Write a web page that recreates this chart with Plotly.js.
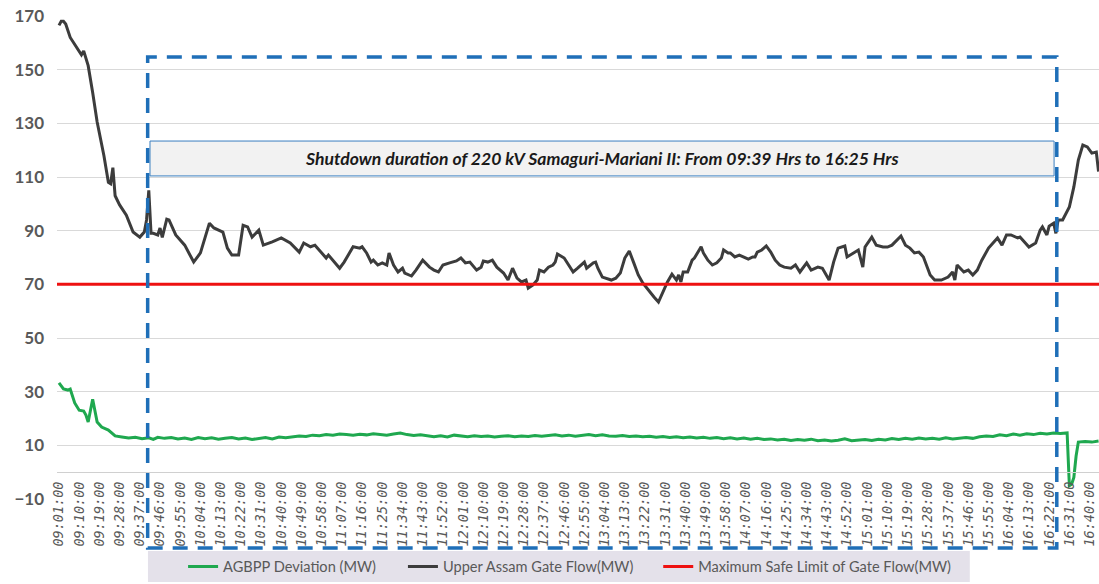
<!DOCTYPE html>
<html>
<head>
<meta charset="utf-8">
<script src="https://cdn.plot.ly/plotly-3.0.1.min.js"></script>
<style>
  html, body { margin: 0; padding: 0; background: #ffffff; }
  #chart { width: 1099px; height: 584px; }
</style>
</head>
<body>
<div id="chart"></div>
<script>
// ---------------- DATA ----------------
const seriesNames = ['AGBPP Deviation (MW)', 'Upper Assam Gate Flow(MW)', 'Maximum Safe Limit of Gate Flow(MW)'];

const gateTimes = ['09:01','09:02','09:03','09:04','09:06','09:09','09:11','09:12','09:14','09:16','09:18','09:21','09:23','09:24','09:25','09:26','09:28','09:31','09:33','09:34','09:37','09:39','09:40','09:41','09:42','09:43','09:45','09:46','09:47','09:49','09:50','09:53','09:57','10:01','10:04','10:08','10:10','10:14','10:16','10:18','10:21','10:23','10:25','10:27','10:30','10:32','10:36','10:40','10:44','10:48','10:50','10:53','10:55','10:58','11:00','11:01','11:03','11:06','11:08','11:10','11:12','11:15','11:16','11:18','11:20','11:21','11:23','11:25','11:27','11:28','11:30','11:32','11:34','11:35','11:38','11:40','11:43','11:46','11:48','11:50','11:52','11:55','11:58','12:00','12:02','12:04','12:07','12:09','12:10','12:12','12:14','12:16','12:19','12:21','12:23','12:25','12:27','12:29','12:30','12:32','12:34','12:35','12:37','12:39','12:41','12:42','12:43','12:46','12:48','12:50','12:52','12:55','12:56','12:59','13:00','13:01','13:03','13:07','13:09','13:11','13:13','13:15','13:17','13:19','13:21','13:24','13:26','13:28','13:30','13:32','13:34','13:36','13:37','13:38','13:39','13:41','13:43','13:44','13:47','13:48','13:50','13:52','13:54','13:56','13:57','13:59','14:00','14:02','14:04','14:06','14:08','14:10','14:11','14:12','14:14','14:16','14:18','14:20','14:22','14:24','14:27','14:29','14:31','14:34','14:36','14:39','14:41','14:44','14:46','14:48','14:51','14:52','14:55','14:57','14:59','15:00','15:03','15:05','15:08','15:10','15:12','15:13','15:16','15:18','15:20','15:22','15:24','15:26','15:29','15:31','15:34','15:37','15:39','15:40','15:41','15:44','15:46','15:48','15:50','15:52','15:55','15:57','15:59','16:01','16:03','16:05','16:08','16:09','16:11','16:13','16:16','16:18','16:19','16:21','16:22','16:24','16:25','16:26','16:28','16:31','16:33','16:35','16:37','16:39','16:41','16:43','16:44'];
const gateFlow = [166.5,168,168,167,162,158,155.5,157,151.5,141.5,130.5,118,108,107.5,113.5,103,99.6,95.8,92,89.5,87.6,89.5,94,105,89,89,88.4,91,87.5,94.3,94,88.4,84.6,78.3,81.7,92.8,91,89.5,83.5,80.9,80.9,92,91.4,87.6,90.2,84.6,85.8,87.3,85.4,82,85.4,84,84.6,81.7,79.8,80.9,79,76,78.3,80.9,84,83.5,84,81.7,78.3,79,77.2,78,77.2,81.7,77.2,74.6,76,74.2,73.1,75.3,79,76.4,75.3,74.6,77.2,78,78.7,79.8,78,78.3,75.3,76.4,78.7,78.3,79,76.4,74.2,71.6,76,72.3,70.9,71.6,68.6,69.7,71.6,75.3,74.6,76.4,77.2,78.3,81.3,79.8,77.2,74.6,76,78.3,76,78,78.3,76,72.7,71.6,72.3,74.2,79.8,82.4,78,73.5,70.5,67.1,65.3,63.4,67.1,70.9,73.8,71.6,73.5,70.9,74.6,74.6,79,79.8,84,81.7,79,77.2,78,79.8,82.8,81.7,81.7,80.2,80.9,80.2,79.4,80.2,80.2,82,82.8,84.3,82,79,77.2,76.4,76,77.2,74.6,78,75.3,76.4,76,71.6,78.3,83.5,84.3,80.2,81.7,82.8,76.4,83.9,87.6,84.6,83.9,83.9,84.6,85.4,88,84.6,83.5,81.7,82,80.2,73.5,71.6,71.6,72.7,74.6,71.6,77.2,74.6,75.3,73.5,75.3,79,83.5,85.4,87.3,84.6,88.4,88.4,87.3,87.6,85.8,83.9,85.4,90.2,91.4,88.4,91.7,92.8,89,94,94,98.8,106.3,116.3,121.9,121.2,118.9,119.3,112];

const agbppTimes = ['09:01','09:02','09:03','09:05','09:06','09:08','09:10','09:12','09:13','09:14','09:16','09:18','09:20','09:23','09:26','09:29','09:32','09:35','09:38','09:41','09:43','09:45','09:48','09:51','09:54','09:57','10:00','10:03','10:06','10:09','10:12','10:15','10:18','10:21','10:24','10:27','10:30','10:33','10:36','10:39','10:42','10:45','10:48','10:51','10:54','10:57','11:00','11:03','11:06','11:09','11:12','11:15','11:18','11:21','11:24','11:27','11:30','11:33','11:36','11:39','11:42','11:45','11:48','11:51','11:54','11:57','12:00','12:03','12:06','12:09','12:12','12:15','12:18','12:21','12:24','12:27','12:30','12:33','12:36','12:39','12:42','12:45','12:48','12:51','12:54','12:57','13:00','13:03','13:06','13:09','13:12','13:15','13:18','13:21','13:24','13:27','13:30','13:33','13:36','13:39','13:42','13:45','13:48','13:51','13:54','13:57','14:00','14:03','14:06','14:09','14:12','14:15','14:18','14:21','14:24','14:27','14:30','14:33','14:36','14:39','14:42','14:45','14:48','14:51','14:54','14:57','15:00','15:03','15:06','15:09','15:12','15:15','15:18','15:21','15:24','15:27','15:30','15:33','15:36','15:39','15:42','15:45','15:48','15:51','15:54','15:57','16:00','16:03','16:06','16:09','16:12','16:15','16:18','16:21','16:24','16:27','16:30','16:31','16:32','16:33','16:34','16:35','16:38','16:41','16:44'];
const agbppDeviation = [33.3,32,31,30.6,31,25.8,23.1,22.8,21.3,18.7,27.2,18.7,16.8,15.7,13.5,13.1,12.7,13,12.5,12.8,12.2,13,12.6,12.9,12.4,12.7,12.2,12.9,12.5,12.8,12.3,12.6,12.9,12.4,12.7,12.2,12.5,12.9,12.4,13.1,12.8,13.2,13.5,13.3,13.8,13.6,14,13.8,14.2,14,13.8,14.1,13.9,14.3,14,13.8,14.2,14.6,14,13.7,13.9,13.5,13.2,13.6,13.1,13.8,13.4,13.2,13.6,13.3,13.5,13.1,13.4,13.6,13.2,13.5,13.3,13.7,13.4,13.6,13.9,13.5,13.8,13.4,13.7,14,13.6,13.9,13.5,13.4,13.7,13.3,13.5,13.2,13.4,13,13.3,12.9,13.2,12.8,13.1,12.7,13,12.6,12.9,12.5,12.8,12.4,12.7,12.3,12.6,12.2,12.4,12,12.3,11.8,12.2,11.9,12.3,11.7,12,11.6,11.9,12.4,11.7,11.9,12.2,11.8,12.3,12,12.5,12.2,12.6,12.3,12.7,12.4,12.6,12.3,12.8,12.4,12.7,12.9,12.6,13.2,13.5,13.3,13.9,13.6,14.2,13.8,14.3,14,14.5,14.2,14.6,14.4,14.6,-5,-4.5,-2,6,11.2,11.4,11.2,11.6];

const limitTimes = ['09:00:07', '16:44:12'];
const safeLimit = [70, 70];

const yTickVals = [-10, 10, 30, 50, 70, 90, 110, 130, 150, 170];

const shutdownText = 'Shutdown duration of 220 kV Samaguri-Mariani II: From 09:39 Hrs to 16:25 Hrs';
// ------------------------------------------------------------------------

const DAY = '2024-01-01 ';
const ts = t => DAY + (t.length === 5 ? t + ':00' : t);

const traces = [
  {
    type: 'scatter', mode: 'lines', name: seriesNames[0], legend: 'legend',
    x: agbppTimes.map(ts), y: agbppDeviation,
    line: {color: '#1fa84f', width: 3}
  },
  {
    type: 'scatter', mode: 'lines', name: seriesNames[1], legend: 'legend2',
    x: gateTimes.map(ts), y: gateFlow,
    line: {color: '#3c3c3c', width: 3}
  },
  {
    type: 'scatter', mode: 'lines', name: seriesNames[2], legend: 'legend3',
    x: limitTimes.map(ts), y: safeLimit,
    line: {color: '#ee1111', width: 3}
  }
];

const legendBase = {
  orientation: 'h', xanchor: 'left', y: -0.14, yanchor: 'middle',
  bgcolor: 'rgba(0,0,0,0)',
  font: {family: 'Lato', size: 14.6, color: '#595959'},
  itemwidth: 30
};

const layout = {
  width: 1099, height: 584,
  margin: {l: 57, r: 0, t: 16, b: 85},
  paper_bgcolor: '#ffffff', plot_bgcolor: '#ffffff',
  showlegend: true,
  xaxis: {
    type: 'date',
    range: [ts('09:00:07'), ts('16:44:12')],
    tick0: ts('09:01'), dtick: 540000,
    tickformat: '%H:%M:%S',
    tickangle: -90,
    tickfont: {family: 'DejaVu Sans Mono', size: 13.5, color: '#595959', style: 'italic'},
    showgrid: false, zeroline: false,
    showline: true, linecolor: '#d0d0d0', linewidth: 1,
    anchor: 'free', position: 10 / 180,
    ticks: '', ticklabelstandoff: 3
  },
  yaxis: {
    range: [-10, 170],
    tickmode: 'array', tickvals: yTickVals,
    tickfont: {family: 'Lato', size: 17, color: '#595959', weight: 'bold'},
    showgrid: true, gridcolor: '#d9d9d9', gridwidth: 1,
    zeroline: false, showline: false, ticks: '',
    ticklabelstandoff: 12
  },
  legend: Object.assign({}, legendBase, {x: 0.121}),
  legend2: Object.assign({}, legendBase, {x: 0.332}),
  legend3: Object.assign({}, legendBase, {x: 0.577}),
  shapes: [
    // legend background box
    {type: 'rect', xref: 'paper', yref: 'paper', x0: 0.0873, x1: 0.876, y0: -0.1077, y1: -0.1718,
     fillcolor: '#e4e1ea', line: {width: 0}, layer: 'below'},
    // shutdown text box
    {type: 'rect', xref: 'x', yref: 'y', x0: ts('09:41:32'), x1: ts('16:24:12'), y0: 110.4, y1: 123.4,
     fillcolor: '#f2f2f2', line: {color: '#3a7fc0', width: 1}, layer: 'below'},
    // dashed shutdown window
    {type: 'rect', xref: 'x', yref: 'paper', x0: ts('09:40:30'), x1: ts('16:25:24'), y0: -0.1014, y1: 0.915,
     fillcolor: 'rgba(0,0,0,0)', line: {color: '#1f6fb8', width: 3.5, dash: '15px,10px'}, layer: 'above'}
  ],
  annotations: [
    {xref: 'x', yref: 'y', x: ts('13:03'), y: 117, text: shutdownText, showarrow: false,
     font: {family: 'Lato', size: 17.6, color: '#1a1a1a', weight: 'bold', style: 'italic'}}
  ]
};

Plotly.newPlot('chart', traces, layout, {displayModeBar: false, staticPlot: true});
</script>
</body>
</html>
